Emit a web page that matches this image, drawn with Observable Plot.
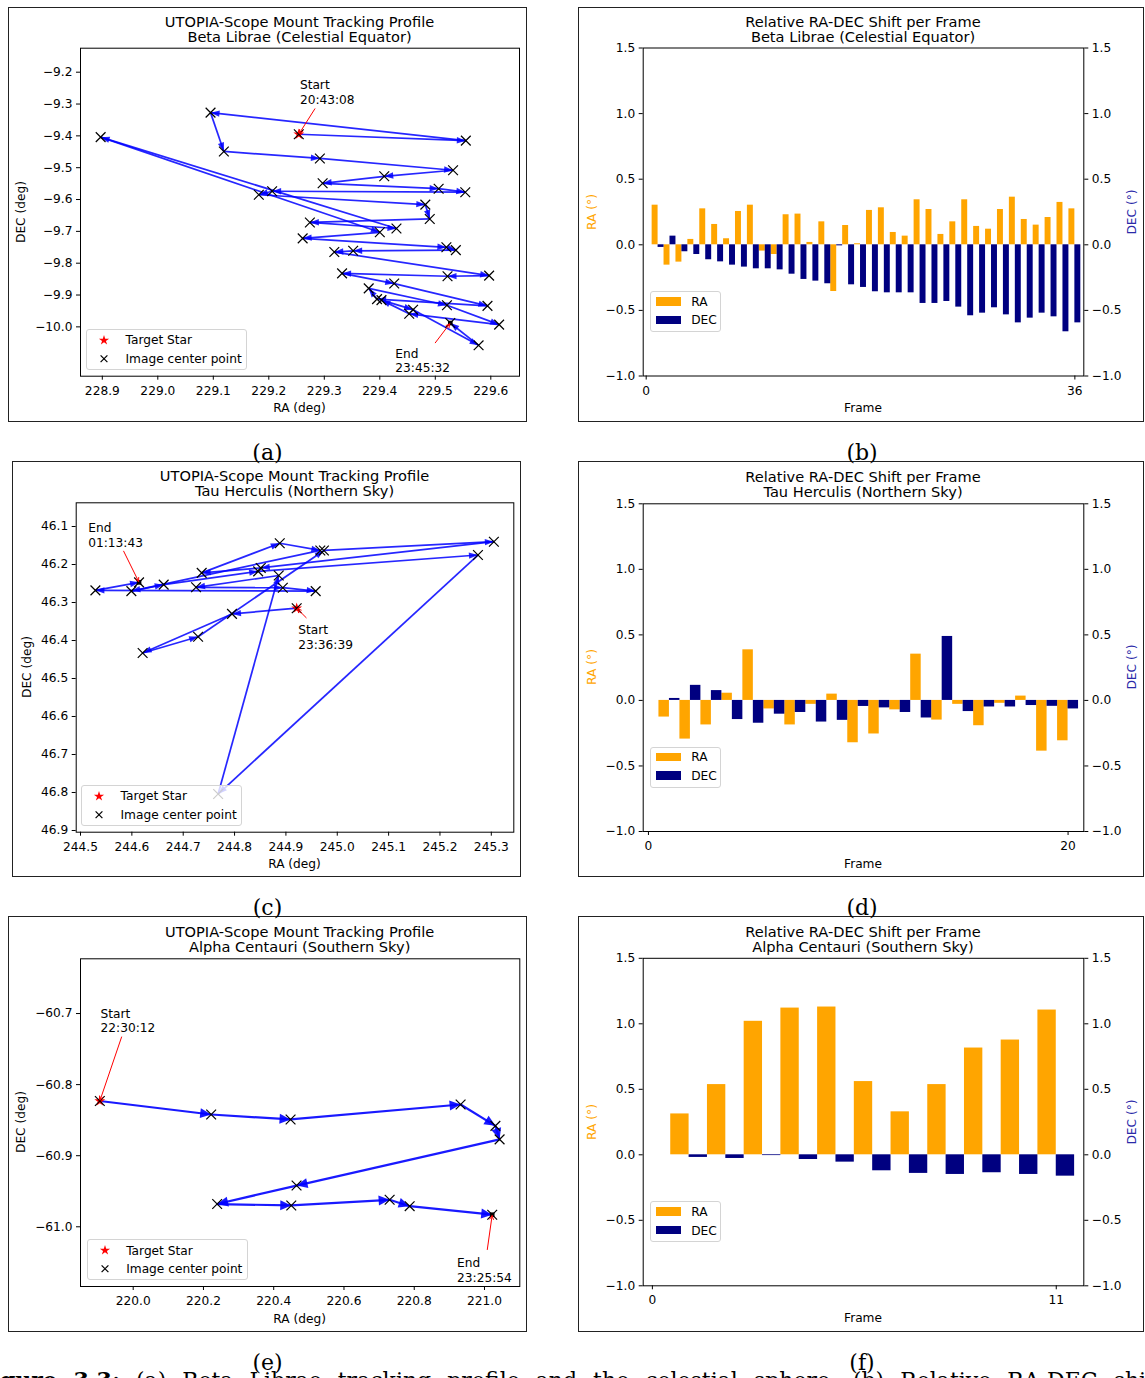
<!DOCTYPE html>
<html>
<head>
<meta charset="utf-8">
<script src="https://cdn.jsdelivr.net/npm/d3@7"></script>
<script src="https://cdn.jsdelivr.net/npm/@observablehq/plot@0.6"></script>
<style>
  html, body { margin: 0; padding: 0; background: #fff; }
  body { width: 1145px; height: 1378px; overflow: hidden; position: relative;
         font-family: "DejaVu Sans", sans-serif; color: #000; }
  .box { position: absolute; border: 1px solid #222; box-sizing: border-box; z-index: 0; }
  .plot { position: absolute; z-index: 1; }
  .title { position: absolute; z-index: 1; font-size: 14.6px; line-height: 15px; white-space: nowrap;
           transform: translate(-50%, -50%); }
  .xlab { position: absolute; z-index: 1; font-size: 12.2px; white-space: nowrap; transform: translate(-50%, -50%); }
  .ylab { position: absolute; z-index: 1; font-size: 12.2px; white-space: nowrap;
          transform: translate(-50%, -50%) rotate(-90deg); }
  .sub { position: absolute; z-index: 1; font-family: "DejaVu Serif", serif; font-size: 22px;
         transform: translate(-50%, -50%); }
  .legend { position: absolute; z-index: 2; background: rgba(255,255,255,0.8); border: 1px solid #d4d4d4;
            border-radius: 3px; box-sizing: border-box; font-size: 12.2px; }
  .legend .row { position: absolute; white-space: nowrap; transform: translateY(-50%); }
  .caption { position: absolute; z-index: 1; font-family: "DejaVu Serif", serif; font-size: 22px;
             white-space: nowrap; line-height: 22px; }
</style>
</head>
<body>
<script>
// ---------- Beta Librae (celestial equator) ----------
const betaRA = [229.254, 229.555, 229.095, 229.119, 229.292, 229.532, 229.408, 229.297, 229.506, 229.554,
  229.206, 229.182, 229.482, 229.490, 229.274, 229.430, 228.897, 229.400, 229.261, 229.520,
  229.537, 229.352, 229.318, 229.597, 229.522, 229.332, 229.426, 229.594, 229.395, 229.380,
  229.521, 229.615, 229.453, 229.403, 229.460, 229.578, 229.527];
const betaDEC = [-9.395, -9.415, -9.327, -9.449, -9.471, -9.508, -9.527, -9.549, -9.566, -9.577,
  -9.574, -9.585, -9.616, -9.661, -9.672, -9.691, -9.404, -9.703, -9.722, -9.750,
  -9.759, -9.761, -9.765, -9.839, -9.841, -9.832, -9.864, -9.934, -9.913, -9.879,
  -9.932, -9.993, -9.959, -9.916, -9.946, -10.058, -9.988];
const betaShiftRA = [0.302, -0.155, -0.132, 0.041, 0.274, 0.155, 0.046, 0.254, 0.302, -0.048,
  -0.074, 0.229, 0.234, 0.018, 0.175, -0.356, 0.147, 0.008, 0.262, 0.282,
  0.094, 0.066, 0.343, 0.269, 0.079, 0.175, 0.343, 0.140, 0.119, 0.269,
  0.363, 0.193, 0.150, 0.208, 0.323, 0.274];
const betaShiftDEC = [-0.020, 0.066, -0.053, -0.074, -0.114, -0.130, -0.155, -0.170, -0.183, -0.183,
  -0.191, -0.224, -0.264, -0.277, -0.297, -0.008, -0.305, -0.325, -0.358, -0.366,
  -0.366, -0.366, -0.447, -0.447, -0.432, -0.475, -0.541, -0.521, -0.480, -0.534,
  -0.595, -0.559, -0.521, -0.549, -0.663, -0.595];
const betaNoteText = ["Start\n20:43:08", "End\n23:45:32"];
const betaNoteRA = [229.256, 229.428];
const betaNoteDEC = [-9.221, -10.064];
const betaPointerRA = [229.283, 229.500];
const betaPointerDEC = [-9.315, -10.050];

// ---------- Tau Herculis (northern sky) ----------
const tauRA = [244.921, 244.795, 244.621, 244.729, 244.974, 245.305, 244.851, 244.736, 244.888, 244.967,
  244.599, 244.662, 244.846, 245.274, 244.768, 244.886, 244.725, 244.894, 244.958, 244.529, 244.614];
const tauDEC = [46.315, 46.330, 46.433, 46.390, 46.163, 46.140, 46.209, 46.222, 46.144, 46.163,
  46.270, 46.253, 46.218, 46.175, 46.804, 46.229, 46.260, 46.261, 46.270, 46.268, 46.247];
const tauShiftRA = [-0.127, -0.295, -0.187, 0.055, 0.386, -0.065, -0.187, -0.030, 0.048, -0.323,
  -0.256, -0.072, 0.353, -0.150, -0.030, -0.193, -0.022, 0.033, -0.387, -0.308];
const tauShiftDEC = [0.015, 0.115, 0.075, -0.146, -0.174, -0.105, -0.092, -0.165, -0.152, -0.046,
  -0.057, -0.092, -0.134, 0.488, -0.085, -0.050, -0.050, -0.039, -0.045, -0.065];
const tauNoteText = ["Start\n23:36:39", "End\n01:13:43"];
const tauNoteRA = [244.924, 244.515];
const tauNoteDEC = [46.356, 46.087];
const tauPointerRA = [244.9395, 244.584];
const tauPointerDEC = [46.340, 46.165];

// ---------- Alpha Centauri (southern sky) ----------
const alphaRA = [219.905, 220.222, 220.448, 220.932, 221.031, 221.043, 220.465, 220.239, 220.450, 220.730, 220.787, 221.022];
const alphaDEC = [-60.823, -60.842, -60.849, -60.828, -60.858, -60.877, -60.942, -60.968, -60.970, -60.962, -60.971, -60.983];
const alphaShiftRA = [0.312, 0.536, 1.019, 1.120, 1.128, 0.559, 0.328, 0.536, 0.815, 0.876, 1.105];
const alphaShiftDEC = [-0.020, -0.028, -0.006, -0.036, -0.056, -0.122, -0.142, -0.150, -0.137, -0.150, -0.163];
const alphaNoteText = ["Start\n22:30:12", "End\n23:25:54"];
const alphaNoteRA = [219.907, 220.922];
const alphaNoteDEC = [-60.691, -61.042];
const alphaPointerRA = [219.967, 221.008];
const alphaPointerDEC = [-60.733, -61.032];

// ---------- tick labels ----------
const betaTicksRA = [228.9, 229.0, 229.1, 229.2, 229.3, 229.4, 229.5, 229.6];
const betaTicksDEC = [-9.2, -9.3, -9.4, -9.5, -9.6, -9.7, -9.8, -9.9, -10.0];
const tauTicksRA = [244.5, 244.6, 244.7, 244.8, 244.9, 245.0, 245.1, 245.2, 245.3];
const tauTicksDEC = [46.1, 46.2, 46.3, 46.4, 46.5, 46.6, 46.7, 46.8, 46.9];
const alphaTicksRA = [220.0, 220.2, 220.4, 220.6, 220.8, 221.0];
const alphaTicksDEC = [-60.7, -60.8, -60.9, -61.0];
const shiftTicks = [-1.0, -0.5, 0.0, 0.5, 1.0, 1.5];

const fmt1 = d3.format(".1f");
const fmtInt = d3.format("d");
const FONT = "DejaVu Sans";

function add(cls, html, x, y, extra) {
  const el = document.createElement("div");
  el.className = cls;
  el.innerHTML = html;
  el.style.left = x + "px";
  el.style.top = y + "px";
  if (extra) Object.assign(el.style, extra);
  document.body.append(el);
  return el;
}

function box(g) {
  add("box", "", g.left, g.top, {width: g.width + "px", height: g.height + "px"});
}

function mount(svg, g) {
  const wrap = document.createElement("div");
  wrap.className = "plot";
  wrap.style.left = g.left + "px";
  wrap.style.top = g.top + "px";
  wrap.style.width = g.width + "px";
  wrap.style.height = g.height + "px";
  wrap.append(svg);
  document.body.append(wrap);
}

// filled triangular heads at the end of each link, in screen space
function quiverHeads(len, half, opacity) {
  return function (index, scales, values, dimensions, context, next) {
    const g = next(index, scales, values, dimensions, context);
    const {x1: X1, y1: Y1, x2: X2, y2: Y2} = values;
    const heads = d3.select(g).append("g").attr("fill", "blue").attr("fill-opacity", opacity).attr("stroke", "none");
    for (const i of index) {
      const dx = X2[i] - X1[i], dy = Y2[i] - Y1[i];
      const d = Math.hypot(dx, dy);
      if (!d) continue;
      const ux = dx / d, uy = dy / d;
      const bx = X2[i] - ux * len, by = Y2[i] - uy * len;
      heads.append("path").attr("d",
        `M${X2[i]},${Y2[i]}L${bx - uy * half},${by + ux * half}L${bx + uy * half},${by - ux * half}Z`);
    }
    return g;
  };
}

function trackPanel(cfg) {
  const g = cfg.geom;
  const pts = cfg.ra.map((ra, i) => ({ra, dec: cfg.dec[i]}));
  const segs = d3.pairs(pts).map(([a, b]) => ({x1: a.ra, y1: a.dec, x2: b.ra, y2: b.dec}));
  const first = pts[0], last = pts[pts.length - 1];
  const notes = cfg.noteText.map((t, i) => ({t, ra: cfg.noteRA[i], dec: cfg.noteDEC[i]}));
  const pointers = cfg.pointerRA.map((ra, i) => {
    const p = i === 0 ? first : last;
    return {x1: ra, y1: cfg.pointerDEC[i], x2: p.ra, y2: p.dec};
  });
  const svg = Plot.plot({
    width: g.width, height: g.height,
    marginLeft: g.mL, marginRight: g.mR, marginTop: g.mT, marginBottom: g.mB,
    style: {fontFamily: FONT, fontSize: "12.2px", background: "transparent", color: "black"},
    x: {domain: cfg.xDomain},
    y: {domain: cfg.yDomain, reverse: !!cfg.yReverse},
    marks: [
      Plot.link(segs, {x1: "x1", y1: "y1", x2: "x2", y2: "y2", stroke: "blue",
        strokeWidth: cfg.arrow.w, strokeOpacity: cfg.arrow.op,
        render: quiverHeads(cfg.arrow.len, cfg.arrow.half, cfg.arrow.op)}),
      Plot.dot([first], {x: "ra", y: "dec", symbol: "star", fill: "red", r: 3.4}),
      Plot.dot(pts, {x: "ra", y: "dec", symbol: "times", stroke: "black", strokeWidth: 1.2, r: 4.5}),
      Plot.dot([last], {x: "ra", y: "dec", symbol: "square", fill: "black", r: 2.6}),
      Plot.arrow(pointers, {x1: "x1", y1: "y1", x2: "x2", y2: "y2", stroke: "red", strokeWidth: 1,
        headLength: 6, headAngle: 55, insetEnd: 1}),
      Plot.text(notes, {x: "ra", y: "dec", text: "t", textAnchor: "start", lineAnchor: "top",
        lineHeight: 1.2, fontSize: 12.2, fill: "black"}),
      Plot.frame({stroke: "black", strokeWidth: 1}),
      Plot.axisX({ticks: cfg.xTicks, tickFormat: fmt1, tickSize: 4, tickPadding: 6, fontSize: 12.2, label: null}),
      Plot.axisY({ticks: cfg.yTicks, tickFormat: fmt1, tickSize: 4, tickPadding: 4, fontSize: 12.2, label: null})
    ]
  });
  box(g);
  mount(svg, g);
  const fx1 = g.left + g.mL, fx2 = g.left + g.width - g.mR;
  const fy1 = g.top + g.mT, fy2 = g.top + g.height - g.mB;
  const cx = (fx1 + fx2) / 2;
  add("title", "UTOPIA-Scope Mount Tracking Profile", cx, fy1 - 27);
  add("title", cfg.subtitle, cx, fy1 - 12);
  add("xlab", "RA (deg)", cx, fy2 + 32.5);
  add("ylab", "DEC (deg)", fx1 - cfg.yLabOff, (fy1 + fy2) / 2);
  // legend
  const lg = add("legend", "", cfg.legend[0], cfg.legend[1], {width: "161px", height: "41px"});
  lg.innerHTML =
    `<svg width="20" height="41" style="position:absolute;left:7px;top:0">
       <path transform="translate(10,10.3)" d="${d3.symbol(d3.symbolStar, 32)()}" fill="red"/>
       <path transform="translate(10,28.7)" d="M-3.4,-3.4L3.4,3.4M-3.4,3.4L3.4,-3.4" stroke="black" stroke-width="1.2"/>
     </svg>
     <div class="row" style="left:38.5px;top:10.3px">Target Star</div>
     <div class="row" style="left:38.5px;top:28.7px">Image center point</div>`;
}

function shiftPanel(cfg) {
  const g = cfg.geom;
  const n = cfg.ra.length;
  const frames = cfg.ra.map((v, i) => ({frame: i + 1, ra: v, dec: cfg.dec[i]}));
  const svg = Plot.plot({
    width: g.width, height: g.height,
    marginLeft: g.mL, marginRight: g.mR, marginTop: g.mT, marginBottom: g.mB,
    style: {fontFamily: FONT, fontSize: "12.2px", background: "transparent", color: "black"},
    x: {domain: [-0.25, n + 0.75]},
    y: {domain: [-1, 1.5]},
    marks: [
      Plot.rect(frames, {x1: d => d.frame - 0.5, x2: d => d.frame, y1: 0, y2: "ra", fill: "orange"}),
      Plot.rect(frames, {x1: d => d.frame, x2: d => d.frame + 0.5, y1: 0, y2: "dec", fill: "navy"}),
      Plot.frame({stroke: "black", strokeWidth: 1}),
      Plot.axisX({ticks: [0, n], tickFormat: fmtInt, tickSize: 4, tickPadding: 6, fontSize: 12.2, label: null}),
      Plot.axisY({anchor: "left", ticks: shiftTicks, tickFormat: fmt1, tickSize: 4, tickPadding: 4, fontSize: 12.2, label: null}),
      Plot.axisY({anchor: "right", ticks: shiftTicks, tickFormat: fmt1, tickSize: 4, tickPadding: 4, fontSize: 12.2, label: null})
    ]
  });
  box(g);
  mount(svg, g);
  const fx1 = g.left + g.mL, fx2 = g.left + g.width - g.mR;
  const fy1 = g.top + g.mT, fy2 = g.top + g.height - g.mB;
  const cx = (fx1 + fx2) / 2;
  add("title", "Relative RA-DEC Shift per Frame", cx, fy1 - 27);
  add("title", cfg.subtitle, cx, fy1 - 12);
  add("xlab", "Frame", cx, fy2 + 32.5);
  add("ylab", "RA (°)", fx1 - 50.5, (fy1 + fy2) / 2, {color: "orange"});
  add("ylab", "DEC (°)", fx2 + 48.5, (fy1 + fy2) / 2, {color: "#2a2aa8"});
  const lg = add("legend", "", fx1 + 7.5, fy1 + 243.5, {width: "71px", height: "41px"});
  lg.innerHTML =
    `<div style="position:absolute;left:5px;top:5px;width:25px;height:8.5px;background:orange"></div>
     <div style="position:absolute;left:5px;top:23.5px;width:25px;height:8.5px;background:navy"></div>
     <div class="row" style="left:40px;top:9.7px">RA</div>
     <div class="row" style="left:40px;top:28.3px">DEC</div>`;
}

trackPanel({
  geom: {left: 8, top: 7, width: 519, height: 415, mL: 72, mR: 8, mT: 40.7, mB: 46.3},
  ra: betaRA, dec: betaDEC, subtitle: "Beta Librae (Celestial Equator)",
  xDomain: [228.8607, 229.6517], yDomain: [-10.155, -9.1246],
  xTicks: betaTicksRA, yTicks: betaTicksDEC,
  noteText: betaNoteText, noteRA: betaNoteRA, noteDEC: betaNoteDEC,
  pointerRA: betaPointerRA, pointerDEC: betaPointerDEC,
  arrow: {w: 1.7, len: 9, half: 3.2, op: 0.85}, yLabOff: 59, legend: [86, 329]
});
trackPanel({
  geom: {left: 12, top: 461, width: 509, height: 416, mL: 63.7, mR: 7.7, mT: 41.3, mB: 45.3},
  ra: tauRA, dec: tauDEC, subtitle: "Tau Herculis (Northern Sky)",
  xDomain: [244.4916, 245.3438], yDomain: [46.0376, 46.9045], yReverse: true,
  xTicks: tauTicksRA, yTicks: tauTicksDEC,
  noteText: tauNoteText, noteRA: tauNoteRA, noteDEC: tauNoteDEC,
  pointerRA: tauPointerRA, pointerDEC: tauPointerDEC,
  arrow: {w: 1.7, len: 9, half: 3.2, op: 0.85}, yLabOff: 49, legend: [81, 785]
});
trackPanel({
  geom: {left: 8, top: 916, width: 519, height: 416, mL: 72, mR: 7.7, mT: 42.3, mB: 46},
  ra: alphaRA, dec: alphaDEC, subtitle: "Alpha Centauri (Southern Sky)",
  xDomain: [219.850, 221.1005], yDomain: [-61.084, -60.623],
  xTicks: alphaTicksRA, yTicks: alphaTicksDEC,
  noteText: alphaNoteText, noteRA: alphaNoteRA, noteDEC: alphaNoteDEC,
  pointerRA: alphaPointerRA, pointerDEC: alphaPointerDEC,
  arrow: {w: 2.2, len: 11, half: 5, op: 0.9}, yLabOff: 59, legend: [86.7, 1239.3]
});

shiftPanel({geom: {left: 578, top: 7, width: 566, height: 415, mL: 64.7, mR: 60.7, mT: 40.5, mB: 46.5},
  ra: betaShiftRA, dec: betaShiftDEC, subtitle: "Beta Librae (Celestial Equator)"});
shiftPanel({geom: {left: 578, top: 461, width: 566, height: 416, mL: 64.7, mR: 60.7, mT: 42.3, mB: 46},
  ra: tauShiftRA, dec: tauShiftDEC, subtitle: "Tau Herculis (Northern Sky)"});
shiftPanel({geom: {left: 578, top: 916, width: 566, height: 416, mL: 64.7, mR: 60.7, mT: 41.8, mB: 46.7},
  ra: alphaShiftRA, dec: alphaShiftDEC, subtitle: "Alpha Centauri (Southern Sky)"});

// sub-figure letters
const subLetters = ["(a)", "(b)", "(c)", "(d)", "(e)", "(f)"];
const subX = [267.5, 862, 267.5, 862, 267.5, 862];
const subY = [452, 452, 907, 907, 1362, 1362];
subLetters.forEach((s, i) => add("sub", s, subX[i], subY[i]));

// figure caption running off the bottom of the page
add("caption", "<b>Figure 3.3:</b> (a) Beta Librae tracking profile and the celestial sphere. (b) Relative RA-DEC shift",
  -24, 1369, {wordSpacing: "9px"});
</script>
</body>
</html>
